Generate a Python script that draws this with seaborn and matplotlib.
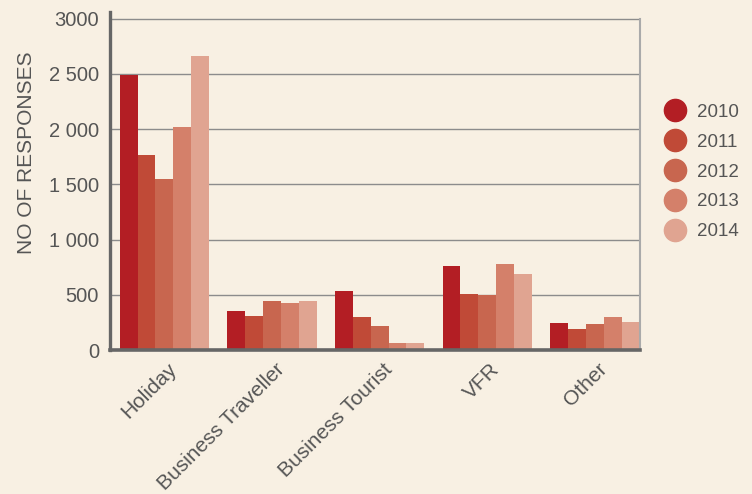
import matplotlib
matplotlib.use("Agg")
import matplotlib.pyplot as plt
import matplotlib.transforms as mtransforms
from matplotlib.lines import Line2D
import seaborn as sns
import pandas as pd

categories = ["Holiday", "Business Traveller", "Business Tourist", "VFR", "Other"]
years = ["2010", "2011", "2012", "2013", "2014"]
v2010 = [2490, 350, 530, 757, 240]
v2011 = [1767, 304, 295, 503, 186]
v2012 = [1550, 440, 213, 494, 231]
v2013 = [2020, 430, 59, 775, 295]
v2014 = [2665, 440, 59, 684, 249]
ytick_vals = [0, 500, 1000, 1500, 2000, 2500, 3000]
ytick_labels = ["0", "500", "1 000", "1 500", "2 000", "2 500", "3000"]
colors = ["#B31E24", "#C04A37", "#C8664F", "#D4806A", "#E0A491"]

series = [v2010, v2011, v2012, v2013, v2014]
rows = []
for y, vals in zip(years, series):
    for c, v in zip(categories, vals):
        rows.append({"category": c, "year": y, "value": v})
df = pd.DataFrame(rows)

sns.set_style("white")
plt.rcParams["font.family"] = ["Liberation Sans", "DejaVu Sans"]
bg = "#F8F0E3"
text_col = "#555555"

fig = plt.figure(figsize=(7.52, 4.94), dpi=100, facecolor=bg)
ax = fig.add_axes([110 / 752, 1 - 350 / 494, 530 / 752, 338 / 494])
ax.set_facecolor(bg)

sns.barplot(data=df, x="category", y="value", hue="year", order=categories,
            hue_order=years, palette=colors, width=0.83, saturation=1,
            errorbar=None, ax=ax, legend=False, linewidth=0, zorder=3)

ax.set_xlim(-0.505, 4.42)
ax.set_ylim(0, 3060)
ax.set_yticks(ytick_vals)
ax.set_yticklabels(ytick_labels, fontsize=14.5, color=text_col)
for v in ytick_vals[1:]:
    ax.axhline(v, color="#8c8c8c", lw=1.0, zorder=1)
ax.tick_params(axis="both", length=0)
ax.tick_params(axis="y", pad=8)
ax.tick_params(axis="x", pad=7)

ax.set_xticks(range(len(categories)))
ax.set_xticklabels(categories, rotation=45, ha="right", rotation_mode="anchor",
                   fontsize=15, color=text_col)
offset = mtransforms.ScaledTranslation(3 / 100, 0, fig.dpi_scale_trans)
for lab in ax.get_xticklabels():
    lab.set_transform(lab.get_transform() + offset)

ax.set_xlabel("")
ax.set_ylabel("NO OF RESPONSES", fontsize=15, color=text_col)
ax.yaxis.set_label_coords(-0.139, 0.583)

ax.spines["top"].set_visible(False)
ax.spines["left"].set_color("#666666")
ax.spines["left"].set_linewidth(2.4)
ax.spines["bottom"].set_color("#666666")
ax.spines["bottom"].set_linewidth(2.6)
ax.spines["right"].set_color("#aaaaaa")
ax.spines["right"].set_linewidth(1.5)
ax.spines["right"].set_bounds(0, 3000)
for s in ax.spines.values():
    s.set_zorder(5)

handles = [Line2D([], [], marker="o", linestyle="none", markersize=16,
                  markerfacecolor=c, markeredgecolor=c) for c in colors]
fig.legend(handles, years, loc="center left",
           bbox_to_anchor=(664 / 752, 1 - 172 / 494), frameon=False,
           fontsize=13.5, labelcolor=text_col, handlelength=1.2,
           handletextpad=0.55, labelspacing=0.68, borderpad=0, borderaxespad=0)

fig.savefig("out.png", dpi=100, facecolor=bg)
